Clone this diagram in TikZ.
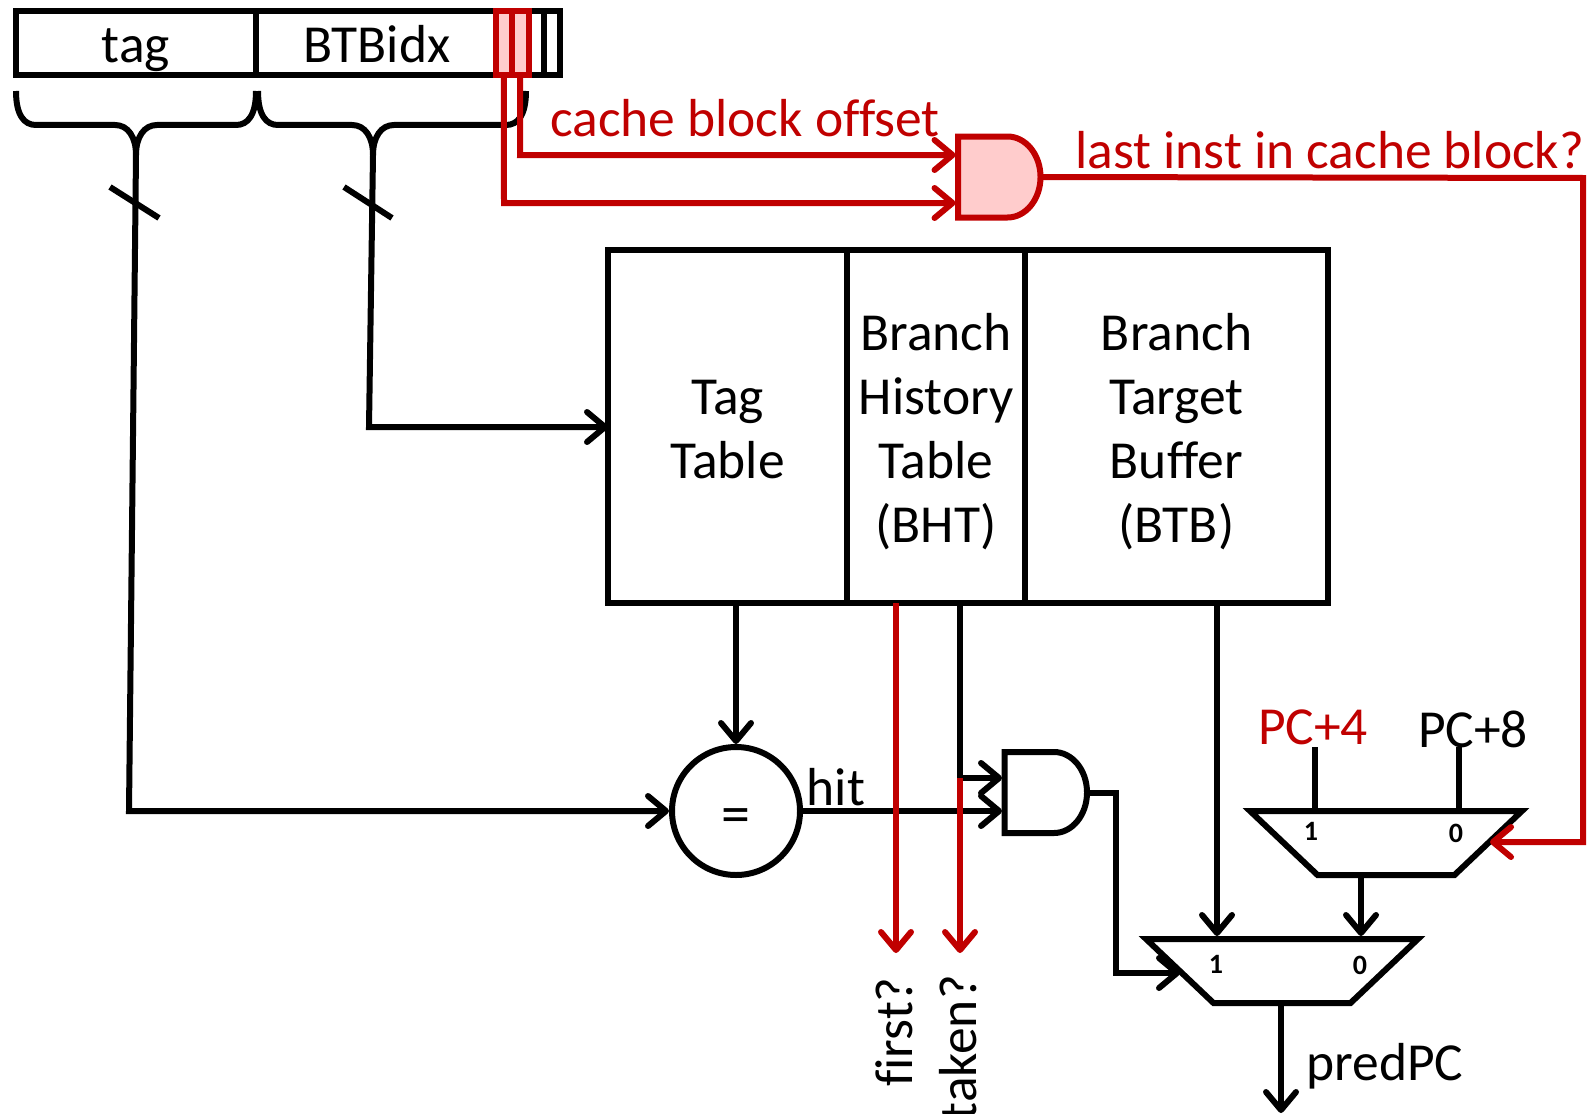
\documentclass[tikz,border=0pt]{standalone}
\usepackage{fontspec}
\setmainfont{Carlito}[Ligatures=NoCommon]
\usepackage{tikz}
\usetikzlibrary{arrows.meta,positioning,shapes.geometric,shapes.gates.logic.US,calc}
\definecolor{hotred}{HTML}{C00000}
\definecolor{hotpink}{HTML}{FFCCCC}
\newcommand{\cellstrut}{\rule{0pt}{53pt}}
\tikzset{
  labeltext/.style={
    font=\fontsize{53.5}{64}\selectfont,
    inner sep=0pt
  },
  fieldbox/.style={
    rectangle,
    draw=black,
    line width=6pt,
    outer sep=0pt,
    minimum height=64pt,
    text height=43pt,
    text depth=3pt,
    labeltext
  },
  hotfield/.style={
    rectangle,
    draw=hotred,
    fill=hotpink,
    line width=6pt,
    outer sep=0pt,
    minimum height=64pt,
    minimum width=16.5pt,
    inner sep=0pt
  },
  tablecell/.style={
    rectangle,
    draw=black,
    line width=6pt,
    outer sep=0pt,
    align=center,
    minimum height=353pt,
    execute at end node={\rule[-14pt]{0pt}{1pt}},
    labeltext
  },
  muxbox/.style={
    trapezium,
    shape border rotate=180,
    trapezium left angle=43.5,
    trapezium right angle=43.5,
    draw=black,
    fill=white,
    line width=6pt,
    inner sep=0pt,
    text width=137pt,
    text height=64pt,
    text depth=0pt
  },
  muxport/.style={
    font=\fontsize{28}{30}\selectfont\bfseries,
    inner sep=0pt
  },
  gatebox/.style={
    and gate US,
    draw=black,
    line width=6pt,
    inner sep=0pt,
    minimum width=84pt,
    minimum height=81pt,
    transform shape,
    xscale=0.815
  },
  wire/.style={line width=6pt,line join=miter},
  flowline/.style={wire,-{Straight Barb[length=18pt,width=30pt,line width=6pt,round]}},
  hotline/.style={flowline,draw=hotred}
}
\begin{document}
\begin{tikzpicture}[x=1pt,y=-1pt]
  \useasboundingbox (0,0) rectangle (1589,1113);
  % address register
  \node[fieldbox, minimum width=240pt, anchor=north west] (tagfield) at (16,11) {tag};
  \node[fieldbox, minimum width=304pt, right=0pt of tagfield] (idxfield) {\hspace*{-62pt}BTBidx};
  \draw[wire] (544,11) -- (544,75);
  \node[hotfield, anchor=north west] (hotone) at (495.5,11) {};
  \node[hotfield, right=0pt of hotone] (hottwo) {};
  % braces
  \draw[wire] (16,91) .. controls (16,115) and (24,125) .. (36,125) -- (115,125)
    .. controls (128,125) and (136,137) .. (136,155);
  \draw[wire] (256,91) .. controls (256,115) and (248,125) .. (236,125) -- (157,125)
    .. controls (144,125) and (136,137) .. (136,155);
  \draw[wire] (258,91) .. controls (258,115) and (266,125) .. (278,125) -- (352,125)
    .. controls (365,125) and (373,137) .. (373,155);
  \draw[wire] (526,91) .. controls (526,115) and (518,125) .. (506,125) -- (394,125)
    .. controls (381,125) and (373,137) .. (373,155);
  % table
  \node[tablecell, minimum width=239pt, anchor=north west] (tagtable) at (608,250) {\cellstrut Tag\\Table};
  \node[tablecell, minimum width=178pt, right=0pt of tagtable] (bht) {\cellstrut Branch\\History\\Table\\(BHT)};
  \node[tablecell, minimum width=303pt, right=0pt of bht] (btb) {\cellstrut Branch\\Target\\Buffer\\(BTB)};
  % gates and muxes
  \node[gatebox, draw=hotred, fill=hotpink] (blockgate) at (996.5,177) {};
  \node[gatebox] (hitgate) at (1043,792.5) {};
  \node[draw, circle, line width=6pt, minimum size=128pt, inner sep=0pt, font=\fontsize{58}{58}\selectfont] (cmp) at (736,811) {\raisebox{-22.5pt}[0pt][0pt]{=}};
  \node[muxbox] (upmux) at (1386,843) {\phantom{0}};
  \node[muxbox] (mainmux) at (1282,971) {\phantom{0}};
  \node[muxport] (upone) at (1311,831) {1};
  \node[muxport] (upzero) at (1456,833) {0};
  \node[muxport] (mainone) at (1216,964) {1};
  \node[muxport] (mainzero) at (1360,965) {0};
  % labels
  \node[labeltext, text=hotred, anchor=west] (offsetlabel) at (550,118) {cache block offset};
  \node[labeltext, text=hotred, anchor=west] (lastlabel) at (1075,150) {last inst in cache block?};
  \node[labeltext] (hitlabel) at (836,787) {hit};
  \node[labeltext, text=hotred] (pcfour) at (1313,727) {PC+4};
  \node[labeltext] (pceight) at (1473,729) {PC+8};
  \node[labeltext] (predlabel) at (1385,1066) {predPC};
  \node[labeltext, rotate=90, anchor=east] (firstlabel) at (894,977) {first?};
  \node[labeltext, rotate=90, anchor=east] (takenlabel) at (958,975) {taken?};
  % bus wires
  \coordinate (tagtip) at (136,155);
  \coordinate (tagbend) at (129,811);
  \coordinate (idxtip) at (373,155);
  \coordinate (idxbend) at (369,427);
  \draw[flowline] (tagtip) -- (tagbend) -- (cmp.west);
  \draw[flowline] (idxtip) -- (idxbend) -- (idxbend -| tagtable.west);
  \draw[wire] (110,187) -- (159,218);
  \draw[wire] (344,187) -- (392,218);
  % black outputs
  \coordinate (bhtbend) at (960,778);
  \coordinate (hitbend) at (1116,792.5);
  \coordinate (hitdown) at (1116,973);
  \coordinate (btbleg) at (1217,603);
  \coordinate (upleg) at (1361,875);
  \coordinate (fourleg) at (1315,747);
  \coordinate (eightleg) at (1459,747);
  \coordinate (predend) at (1281,1113);
  \draw[flowline] (cmp |- tagtable.south) -- (cmp.north);
  \draw[flowline] (cmp.east) -- (cmp.east -| hitgate.west);
  \draw[flowline] (bhtbend |- bht.south) -- (bhtbend) -- (bhtbend -| hitgate.west);
  \draw[flowline] (hitgate.east) -- (hitbend) -- (hitdown) -- ++(64,0);
  \draw[flowline] (btbleg) -- (btbleg |- mainmux.north);
  \draw[flowline] (upleg) -- (upleg |- mainmux.north);
  \draw[wire] (fourleg) -- (fourleg |- upmux.north);
  \draw[wire] (eightleg) -- (eightleg |- upmux.north);
  \draw[flowline] (predend |- mainmux.south) -- (predend);
  % red wires
  \coordinate (hotonedown) at (504,203);
  \coordinate (hottwodown) at (520,155);
  \coordinate (lastbend) at (1583,178);
  \coordinate (lastdown) at (1583,842);
  \coordinate (lastend) at (1490,842);
  \coordinate (firstout) at (896,603);
  \coordinate (firstend) at (896,953);
  \coordinate (takenend) at (960,953);
  \draw[hotline] (hotone.south) -- (hotonedown) -- (hotonedown -| blockgate.west);
  \draw[hotline] (hottwo.south) -- (hottwodown) -- (hottwodown -| blockgate.west);
  \draw[hotline] (blockgate.east) -- (lastbend) -- (lastdown) -- (lastend);
  \draw[hotline] (firstout) -- (firstend);
  \draw[hotline] (bhtbend) -- (takenend);
\end{tikzpicture}
\end{document}
